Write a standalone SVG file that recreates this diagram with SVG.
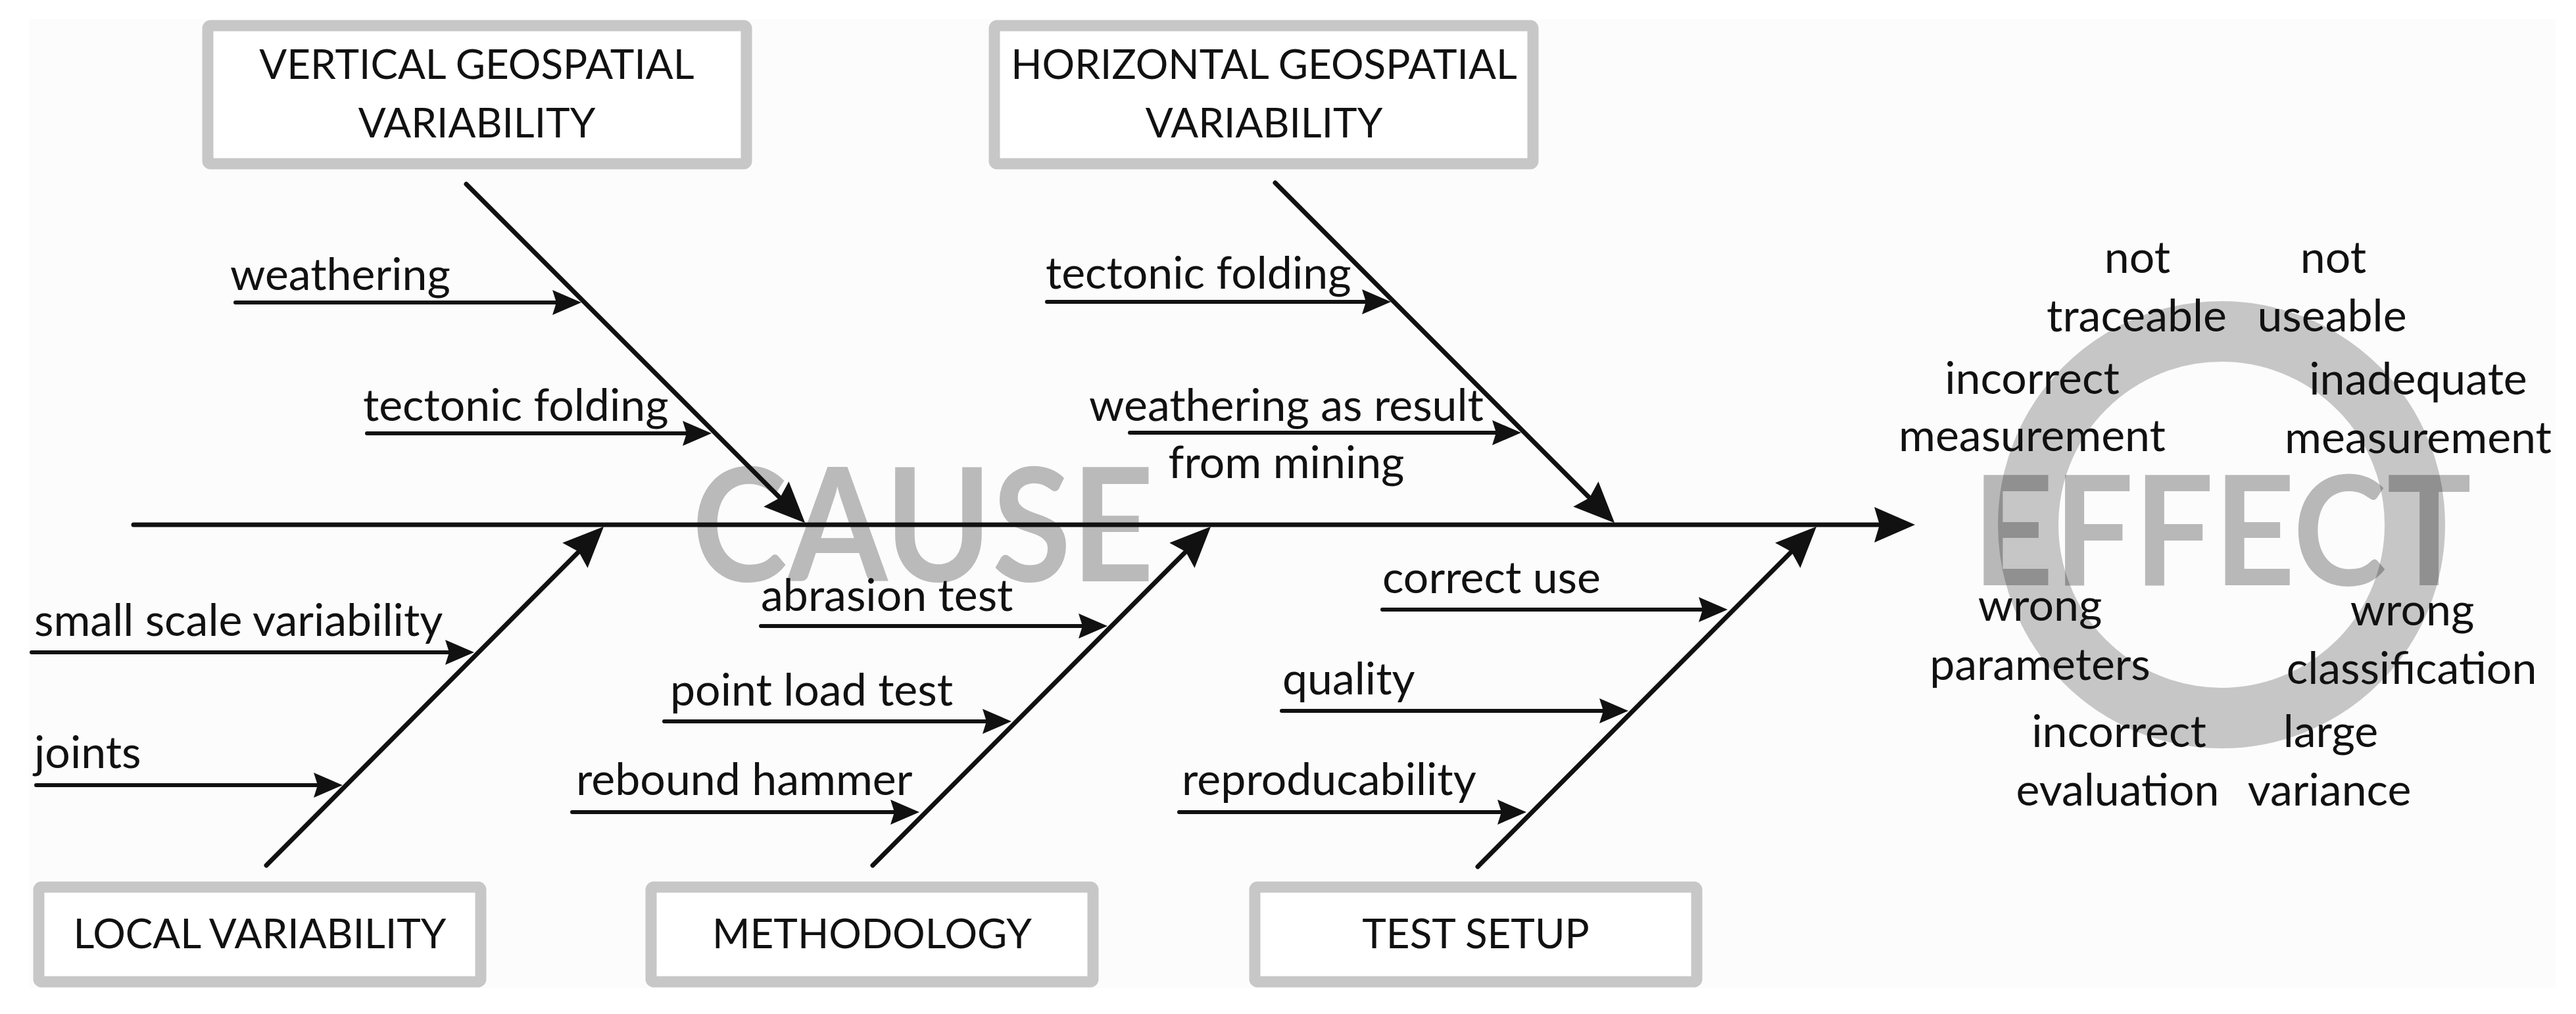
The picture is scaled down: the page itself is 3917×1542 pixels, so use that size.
<svg xmlns="http://www.w3.org/2000/svg" width="3917" height="1542" viewBox="0 0 3917 1542">
<defs>
<style>
.lbl{font-family:Lato,"Open Sans","Liberation Sans",sans-serif;font-size:68px;fill:#111}
.box{fill:#fff;stroke:#c6c7c6;stroke-width:17}
.boxt{font-family:Lato,"Open Sans","Liberation Sans",sans-serif;font-size:62px;fill:#111;text-anchor:middle}
.eff{font-family:Lato,"Open Sans","Liberation Sans",sans-serif;font-size:68px;fill:#111;text-anchor:middle}
.wm{font-family:Lato,"Open Sans","Liberation Sans",sans-serif;font-weight:700}
.big{stroke:#111;stroke-width:7;stroke-linecap:round;fill:none;marker-end:url(#bh)}
.sub{stroke:#111;stroke-width:6;stroke-linecap:round;fill:none;marker-end:url(#sh)}
</style>
<marker id="bh" markerUnits="userSpaceOnUse" viewBox="-10 -30 66 60" refX="0" refY="0" markerWidth="66" markerHeight="60" orient="auto" overflow="visible">
<path d="M54,0 L-8,-27 L0,0 L-8,27 Z" fill="#111"/>
</marker>
<marker id="sh" markerUnits="userSpaceOnUse" viewBox="-8 -22 48 44" refX="0" refY="0" markerWidth="48" markerHeight="44" orient="auto" overflow="visible">
<path d="M38,0 L-6,-19 L0,0 L-6,19 Z" fill="#111"/>
</marker>
</defs>
<rect x="0" y="0" width="3917" height="1542" fill="#fff"/>
<rect x="44" y="29" width="3843" height="1474" fill="#fcfcfc"/>

<g id="watermarks">
<text class="wm" x="1052" y="884" font-size="240" fill="#bababa" textLength="703" lengthAdjust="spacingAndGlyphs">CAUSE</text>
<circle cx="3378" cy="798" r="294" fill="none" stroke="#c6c6c6" stroke-width="92"/>
<text class="wm" x="2999" y="890" font-size="232" fill="#000" fill-opacity="0.27" textLength="759" lengthAdjust="spacingAndGlyphs">EFFECT</text>
</g>

<g id="connectors">
<line class="big" x1="203" y1="798" x2="2858" y2="798"/>
<line class="big" x1="709" y1="280" x2="1186" y2="757"/>
<line class="big" x1="1939" y1="278" x2="2417" y2="757"/>
<line class="big" x1="405" y1="1316" x2="880" y2="839"/>
<line class="big" x1="1327" y1="1316" x2="1803" y2="839"/>
<line class="big" x1="2247" y1="1318" x2="2724" y2="839"/>
<line class="sub" x1="358" y1="460" x2="846" y2="460"/>
<line class="sub" x1="558" y1="659" x2="1044" y2="659"/>
<line class="sub" x1="1592" y1="459" x2="2077" y2="459"/>
<line class="sub" x1="1718" y1="658" x2="2275" y2="658"/>
<line class="sub" x1="48" y1="992" x2="683" y2="992"/>
<line class="sub" x1="55" y1="1194" x2="483" y2="1194"/>
<line class="sub" x1="1157" y1="952" x2="1646" y2="952"/>
<line class="sub" x1="1010" y1="1097" x2="1500" y2="1097"/>
<line class="sub" x1="870" y1="1235" x2="1360" y2="1235"/>
<line class="sub" x1="2102" y1="927" x2="2589" y2="927"/>
<line class="sub" x1="1949" y1="1081" x2="2438" y2="1081"/>
<line class="sub" x1="1793" y1="1235" x2="2283" y2="1235"/>
</g>

<g id="node-vertical">
<rect class="box" x="316" y="39" width="819" height="210" rx="4"/>
<text class="boxt" x="725" y="120">VERTICAL GEOSPATIAL</text>
<text class="boxt" x="725" y="209">VARIABILITY</text>
</g>
<g id="node-horizontal">
<rect class="box" x="1512" y="39" width="819" height="210" rx="4"/>
<text class="boxt" x="1922" y="120">HORIZONTAL GEOSPATIAL</text>
<text class="boxt" x="1922" y="209">VARIABILITY</text>
</g>
<g id="node-local">
<rect class="box" x="59" y="1349" width="672" height="144" rx="4"/>
<text class="boxt" x="395" y="1442">LOCAL VARIABILITY</text>
</g>
<g id="node-methodology">
<rect class="box" x="990" y="1349" width="672" height="144" rx="4"/>
<text class="boxt" x="1326" y="1442">METHODOLOGY</text>
</g>
<g id="node-testsetup">
<rect class="box" x="1908" y="1349" width="672" height="144" rx="4"/>
<text class="boxt" x="2244" y="1442">TEST SETUP</text>
</g>

<g id="cause-labels">
<text class="lbl" x="350" y="441">weathering</text>
<text class="lbl" x="552" y="640">tectonic folding</text>
<text class="lbl" x="1590" y="439">tectonic folding</text>
<text class="lbl" x="1956" y="640" text-anchor="middle">weathering as result</text>
<text class="lbl" x="1956" y="727" text-anchor="middle">from mining</text>
<text class="lbl" x="52" y="967">small scale variability</text>
<text class="lbl" x="52" y="1168">joints</text>
<text class="lbl" x="1157" y="929">abrasion test</text>
<text class="lbl" x="1019" y="1073">point load test</text>
<text class="lbl" x="876" y="1209">rebound hammer</text>
<text class="lbl" x="2102" y="902">correct use</text>
<text class="lbl" x="1950" y="1056">quality</text>
<text class="lbl" x="1797" y="1209">reproducability</text>
</g>

<g id="effect-labels">
<text class="eff" x="3250" y="415">not</text>
<text class="eff" x="3249" y="504">traceable</text>
<text class="eff" x="3548" y="415">not</text>
<text class="eff" x="3546" y="504">useable</text>
<text class="eff" x="3090" y="599">incorrect</text>
<text class="eff" x="3090" y="686">measurement</text>
<text class="eff" x="3677" y="600">inadequate</text>
<text class="eff" x="3677" y="689">measurement</text>
<text class="eff" x="3102" y="944">wrong</text>
<text class="eff" x="3102" y="1034">parameters</text>
<text class="eff" x="3668" y="951">wrong</text>
<text class="eff" x="3667" y="1040">classification</text>
<text class="eff" x="3222" y="1136">incorrect</text>
<text class="eff" x="3220" y="1225">evaluation</text>
<text class="eff" x="3544" y="1136">large</text>
<text class="eff" x="3542" y="1225">variance</text>
</g>
</svg>
